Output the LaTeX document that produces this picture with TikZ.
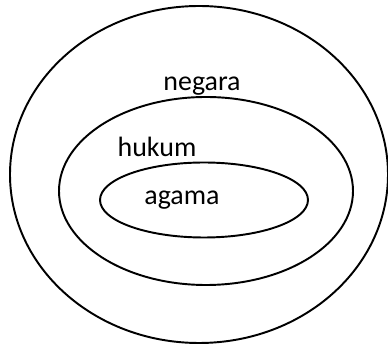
\documentclass[tikz,border=0pt]{standalone}
\usepackage{fontspec}
\setmainfont{Carlito}
\usepackage{tikz}
\usetikzlibrary{shapes.geometric, positioning}

\begin{document}
\begin{tikzpicture}[
    % ring of the diagram
    ring/.style={
        ellipse, draw=black, line width=1.1pt,
        inner sep=0pt
    },
    % label inside a ring
    lbl/.style={
        font=\fontsize{15.9}{18}\selectfont,
        anchor=base, inner sep=0pt
    }
]
\useasboundingbox (0,0) rectangle (7.76,6.9);
% rings
\node[ring, minimum width=7.56cm, minimum height=6.74cm] (negara) at (3.98, 3.41) {};
\node[ring, minimum width=5.88cm, minimum height=3.76cm] (hukum)  at (4.12, 3.08) {};
\node[ring, minimum width=4.16cm, minimum height=1.50cm] (agama)  at (4.08, 2.90) {};
% labels
\node[lbl] (tnegara) at (4.04, 5.08) {negara};
\node[lbl] (thukum)  at (3.14, 3.76) {hukum};
\node[lbl] (tagama)  at (3.64, 2.80) {agama};
\end{tikzpicture}
\end{document}
